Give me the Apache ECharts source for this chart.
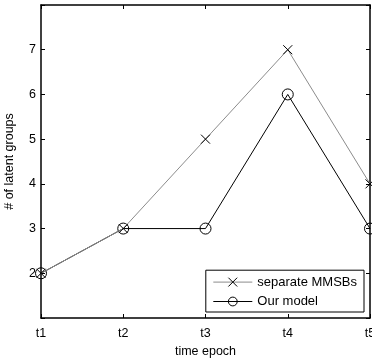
<!DOCTYPE html>
<html>
<head>
<meta charset="utf-8">
<script src="https://cdn.jsdelivr.net/npm/echarts@6/dist/echarts.min.js"></script>
<style>
  html, body { margin: 0; padding: 0; background: #fff; }
  #chart { width: 372px; height: 358px; }
</style>
</head>
<body>
<div id="chart"></div>
<script>
const epochs = ['t1', 't2', 't3', 't4', 't5'];
const separateMMSBs = [2, 3, 5, 7, 4];
const ourModel = [2, 3, 3, 6, 3];

const font = 'Liberation Sans, Arial, sans-serif';
const crossPath = 'path://M0,0L10,10M10,0L0,10';

const chart = echarts.init(document.getElementById('chart'));

const tickStyle = { show: true, inside: true, length: 4, lineStyle: { color: '#000' } };
const lineAxis = { show: true, onZero: false, lineStyle: { color: '#000', width: 1.5 } };

chart.setOption({
  animation: false,
  backgroundColor: '#fff',
  grid: { left: 41, right: 2, top: 5, bottom: 40, outerBoundsMode: 'none', containLabel: false },
  xAxis: [
    {
      type: 'category',
      data: epochs,
      boundaryGap: false,
      position: 'bottom',
      name: 'time epoch',
      nameLocation: 'middle',
      nameGap: 21,
      nameTextStyle: { fontFamily: font, fontSize: 12.5, color: '#000' },
      axisLine: lineAxis,
      axisTick: { ...tickStyle, alignWithLabel: true },
      axisLabel: { fontFamily: font, fontSize: 12.5, color: '#000', margin: 9 },
      splitLine: { show: false },
    },
    {
      type: 'category',
      data: epochs,
      boundaryGap: false,
      position: 'top',
      axisLine: lineAxis,
      axisTick: tickStyle,
      axisLabel: { show: false },
      splitLine: { show: false },
    },
  ],
  yAxis: [
    {
      type: 'value',
      min: 1,
      max: 8,
      interval: 1,
      position: 'left',
      name: '# of latent groups',
      nameLocation: 'middle',
      nameGap: 25,
      nameTextStyle: { fontFamily: font, fontSize: 12.5, color: '#000' },
      axisLine: lineAxis,
      axisTick: tickStyle,
      axisLabel: {
        fontFamily: font,
        fontSize: 12.5,
        color: '#000',
        margin: 5,
        formatter: (v) => (v === 1 || v === 8 ? '' : String(v)),
      },
      splitLine: { show: false },
    },
    {
      type: 'value',
      min: 1,
      max: 8,
      interval: 1,
      position: 'right',
      axisLine: lineAxis,
      axisTick: tickStyle,
      axisLabel: { show: false },
      splitLine: { show: false },
    },
  ],
  legend: {
    orient: 'vertical',
    right: 8,
    bottom: 46,
    itemWidth: 39,
    itemHeight: 11,
    itemGap: 6,
    padding: [5, 7, 4, 7],
    backgroundColor: '#fff',
    borderColor: '#000',
    borderWidth: 1,
    borderRadius: 0,
    textStyle: { fontFamily: font, fontSize: 13, color: '#000' },
    lineStyle: { width: 1 },
    itemStyle: { borderWidth: 1 },
    data: ['separate MMSBs', 'Our model'],
  },
  series: [
    {
      name: 'separate MMSBs',
      type: 'line',
      data: separateMMSBs,
      symbol: crossPath,
      symbolSize: 9,
      lineStyle: { color: '#8c8c8c', width: 1 },
      itemStyle: { color: 'none', borderColor: '#000', borderWidth: 1 },
      z: 3,
    },
    {
      name: 'Our model',
      type: 'line',
      data: ourModel,
      symbol: 'circle',
      symbolSize: 11,
      lineStyle: { color: '#000', width: 1 },
      itemStyle: { color: 'transparent', borderColor: '#000', borderWidth: 1 },
      z: 2,
    },
  ],
});
</script>
</body>
</html>
